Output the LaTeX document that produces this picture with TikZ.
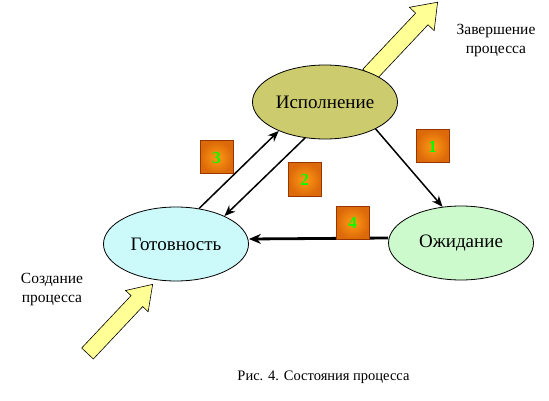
\documentclass[tikz,border=0pt]{standalone}
\usepackage{fontspec}
\setmainfont{Liberation Serif}
\usepackage{tikz}
\usetikzlibrary{
  arrows.meta,
  shapes.geometric,
}
\definecolor{runFill}{RGB}{204,204,110}
\definecolor{readyFill}{RGB}{204,250,250}
\definecolor{waitFill}{RGB}{204,250,204}
\definecolor{boxEdge}{RGB}{150,55,0}
\definecolor{boxIn}{RGB}{255,155,20}
\definecolor{boxOut}{RGB}{220,105,10}
\definecolor{numGreen}{RGB}{0,255,0}
\definecolor{blockFill}{RGB}{255,255,150}
\tikzset{
  state/.style={
    ellipse, draw=black, line width=0.8pt, minimum width=145pt,
    minimum height=74pt, inner sep=0pt, font=\fontsize{19}{22}\selectfont,
  },
  numbox/.style={
    rectangle, draw=boxEdge, line width=1pt, minimum size=33pt,
    inner sep=0pt, inner color=boxIn, outer color=boxOut,
    text=numGreen, font=\fontsize{17}{18}\selectfont\bfseries,
  },
  label/.style={
    align=center, font=\fontsize{15.5}{19}\selectfont,
  },
  blockArrow/.style={
    draw=black, line width=0.6pt, fill=blockFill, line join=miter,
  },
  arrowThin/.style={
    -{Stealth[length=11pt,width=9pt]}, line width=1.5pt,
  },
  arrowThick/.style={
    -{Stealth[length=12pt,width=10pt]}, line width=2.8pt,
  },
}

\begin{document}
\begin{tikzpicture}[x=1pt,y=-1pt]
\useasboundingbox (0,0) rectangle (549,401);

% block arrows
\begin{scope}[shift={(369,75)}, rotate=46.7]
  \draw[blockArrow] (0,-8.5) -- (77,-8.5) -- (77,-17) -- (100,0)
    -- (77,17) -- (77,8.5) -- (0,8.5) -- cycle;
\end{scope}
\begin{scope}[shift={(87.5,353.5)}, rotate=46.7]
  \draw[blockArrow] (0,-8) -- (72,-8) -- (72,-15.5) -- (95,0)
    -- (72,15.5) -- (72,8) -- (0,8) -- cycle;
\end{scope}

% states
\node[state, fill=runFill] (run) at (325,102) {Исполнение};
\node[state, fill=readyFill] (ready) at (176,244) {Готовность};
\node[state, fill=waitFill] (wait) at (461,243) {Ожидание};

% transitions
\draw[arrowThin] (ready.57.7) -- (run.212.8);
\draw[arrowThin] (run.241.6) -- (ready.30.6);
\draw[arrowThin] (run.332.6) -- (wait.117.7);
\draw[arrowThick] ([yshift=5pt]wait.west) -- ([yshift=5pt]ready.east);

% numbers
\node[numbox] (n1) at (432.5,146.5) {1};
\node[numbox] (n2) at (304.5,179.5) {2};
\node[numbox] (n3) at (216.5,157.5) {3};
\node[numbox] (n4) at (352.5,222.5) {4};

% texts
\node[label] (finish) at (496,41) {Завершение\\процесса};
\node[label] (create) at (52,290) {Создание\\процесса};
\node[font=\fontsize{14.5}{17}\selectfont] (caption) at (323.5,377)
  {Рис. 4. Состояния процесса};

\end{tikzpicture}
\end{document}
